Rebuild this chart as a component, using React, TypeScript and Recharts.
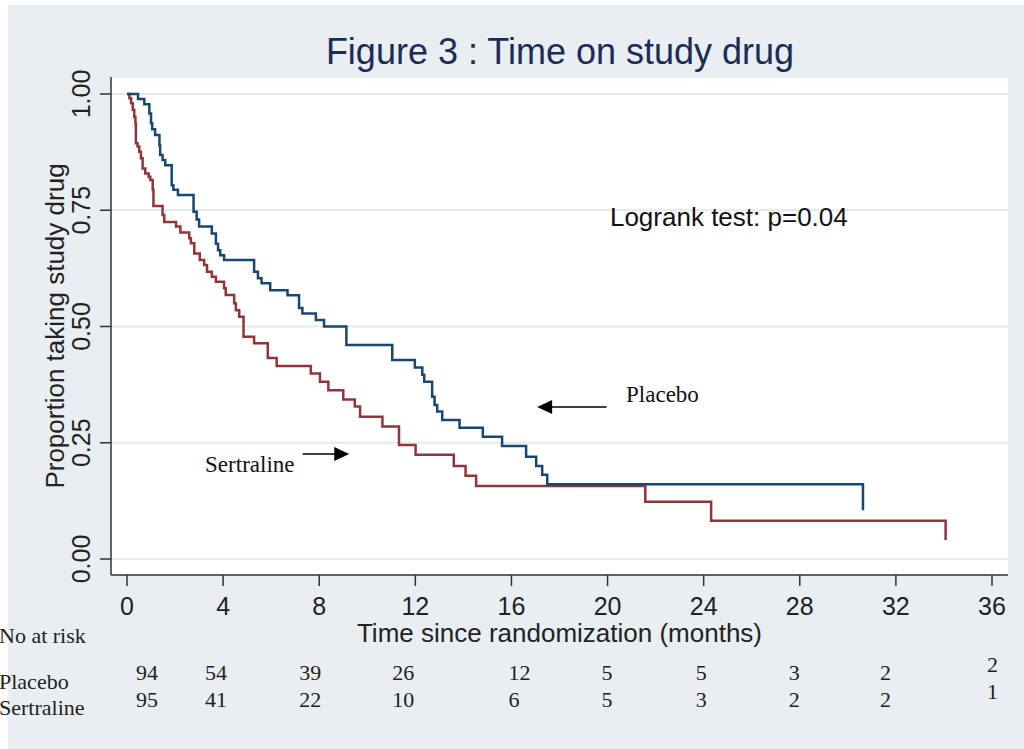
import React from 'react';
import {
    LineChart, Line, XAxis, YAxis, CartesianGrid, ReferenceLine, ReferenceDot, Label
} from 'recharts';

// Kaplan-Meier steps: time (months) -> proportion still on drug
const PLACEBO = [
    { t: 0, s: 1 }, { t: 0.46, s: 0.989 }, { t: 0.72, s: 0.978 }, { t: 0.93, s: 0.958 },
    { t: 1.0, s: 0.937 }, { t: 1.05, s: 0.924 }, { t: 1.17, s: 0.912 }, { t: 1.35, s: 0.89 },
    { t: 1.38, s: 0.869 }, { t: 1.48, s: 0.858 }, { t: 1.59, s: 0.847 }, { t: 1.86, s: 0.804 },
    { t: 1.93, s: 0.794 }, { t: 2.12, s: 0.783 }, { t: 2.77, s: 0.747 }, { t: 2.9, s: 0.73 },
    { t: 3.0, s: 0.715 }, { t: 3.53, s: 0.7 }, { t: 3.7, s: 0.678 }, { t: 3.79, s: 0.664 },
    { t: 3.88, s: 0.653 }, { t: 4.04, s: 0.643 }, { t: 5.29, s: 0.618 }, { t: 5.45, s: 0.604 },
    { t: 5.6, s: 0.593 }, { t: 5.96, s: 0.578 }, { t: 6.68, s: 0.567 }, { t: 7.16, s: 0.54 },
    { t: 7.3, s: 0.528 }, { t: 7.86, s: 0.514 }, { t: 8.2, s: 0.5 }, { t: 9.13, s: 0.46 },
    { t: 11.04, s: 0.428 }, { t: 11.98, s: 0.412 }, { t: 12.29, s: 0.396 }, { t: 12.37, s: 0.381 },
    { t: 12.7, s: 0.349 }, { t: 12.8, s: 0.331 }, { t: 12.91, s: 0.317 }, { t: 13.12, s: 0.299 },
    { t: 13.84, s: 0.282 }, { t: 14.81, s: 0.263 }, { t: 15.61, s: 0.243 }, { t: 16.61, s: 0.22 },
    { t: 17.03, s: 0.2 }, { t: 17.28, s: 0.181 }, { t: 17.49, s: 0.161 }, { t: 30.63, s: 0.105 },
];

const SERTRALINE = [
    { t: 0, s: 1 }, { t: 0.1, s: 0.991 }, { t: 0.17, s: 0.98 }, { t: 0.24, s: 0.966 },
    { t: 0.3, s: 0.951 }, { t: 0.35, s: 0.937 }, { t: 0.37, s: 0.894 }, { t: 0.44, s: 0.887 },
    { t: 0.51, s: 0.876 }, { t: 0.58, s: 0.862 }, { t: 0.65, s: 0.84 }, { t: 0.76, s: 0.829 },
    { t: 0.9, s: 0.822 }, { t: 0.97, s: 0.815 }, { t: 1.07, s: 0.794 }, { t: 1.1, s: 0.759 },
    { t: 1.48, s: 0.74 }, { t: 1.55, s: 0.725 }, { t: 2.04, s: 0.715 }, { t: 2.22, s: 0.702 },
    { t: 2.59, s: 0.69 }, { t: 2.66, s: 0.679 }, { t: 2.8, s: 0.657 }, { t: 3.03, s: 0.643 },
    { t: 3.21, s: 0.632 }, { t: 3.33, s: 0.618 }, { t: 3.53, s: 0.607 }, { t: 3.7, s: 0.596 },
    { t: 4.04, s: 0.582 }, { t: 4.11, s: 0.568 }, { t: 4.46, s: 0.55 }, { t: 4.53, s: 0.535 },
    { t: 4.67, s: 0.521 }, { t: 4.85, s: 0.478 }, { t: 5.29, s: 0.464 }, { t: 5.86, s: 0.432 },
    { t: 6.23, s: 0.415 }, { t: 7.65, s: 0.399 }, { t: 8.03, s: 0.381 }, { t: 8.38, s: 0.363 },
    { t: 9.0, s: 0.343 }, { t: 9.48, s: 0.328 }, { t: 9.7, s: 0.306 }, { t: 10.63, s: 0.285 },
    { t: 11.32, s: 0.245 }, { t: 12.01, s: 0.224 }, { t: 13.6, s: 0.2 }, { t: 14.09, s: 0.179 },
    { t: 14.53, s: 0.157 }, { t: 21.57, s: 0.123 }, { t: 24.31, s: 0.082 }, { t: 34.07, s: 0.041 },
];

const X_TICKS = [0, 4, 8, 12, 16, 20, 24, 28, 32, 36];
const Y_TICKS = [0, 0.25, 0.5, 0.75, 1];

// numbers at risk, one per x tick
const RISK_PLACEBO = [94, 54, 39, 26, 12, 5, 5, 3, 2, 2];
const RISK_SERTRALINE = [95, 41, 22, 10, 6, 5, 3, 2, 2, 1];

// stata puts the risk numbers a little off the ticks (left edge, px from tick)
const RISK_DX = [9, -18, -20, -23, -3, -6, -8, -11, -16, -5];

const SANS = '"Liberation Sans", Arial, sans-serif';
const SERIF = '"Liberation Serif", "Times New Roman", serif';
const NAVY = '#1a476f';
const MAROON = '#90353b';
const AXIS = '#333333';

const YTick = ({ x, y, payload }: any) => (
    <text
        x={x - 10}
        y={y}
        transform={`rotate(-90, ${x - 10}, ${y})`}
        textAnchor="middle"
        fontFamily={SANS}
        fontSize={25}
        fill="#222"
    >
        {Number(payload.value).toFixed(2)}
    </text>
);

const XTick = ({ x, y, payload }: any) => {
    const i = X_TICKS.indexOf(payload.value);
    const last = i === X_TICKS.length - 1;
    const lift = last ? 8 : 0;
    return (
        <g>
            <text x={x} y={y + 29} textAnchor="middle" fontFamily={SANS} fontSize={25} fill="#222">
                {payload.value}
            </text>
            <text x={x + RISK_DX[i]} y={680 - lift} fontFamily={SERIF} fontSize={22} fill="#222">
                {RISK_PLACEBO[i]}
            </text>
            <text x={x + RISK_DX[i]} y={707 - lift} fontFamily={SERIF} fontSize={22} fill="#222">
                {RISK_SERTRALINE[i]}
            </text>
        </g>
    );
};

const xLabel = ({ viewBox }: any) => (
    <text x={viewBox.x + viewBox.width / 2} y={642} textAnchor="middle" fontFamily={SANS} fontSize={26} fill="#222">
        Time since randomization (months)
    </text>
);

const yLabel = ({ viewBox }: any) => {
    const cy = viewBox.y + viewBox.height / 2;
    return (
        <text x={64} y={cy} transform={`rotate(-90, 64, ${cy})`} textAnchor="middle" fontFamily={SANS} fontSize={26} fill="#222">
            Proportion taking study drug
        </text>
    );
};

const arrowLeft = ({ cx, cy }: any) => (
    <polygon points={`${cx},${cy} ${cx + 15},${cy - 7} ${cx + 15},${cy + 7}`} fill="#000" />
);

const arrowRight = ({ cx, cy }: any) => (
    <polygon points={`${cx},${cy} ${cx - 15},${cy - 7} ${cx - 15},${cy + 7}`} fill="#000" />
);

const note = (txt: string, family: string, size: number) => ({ cx, cy }: any) => (
    <text x={cx} y={cy} fontFamily={family} fontSize={size} fill="#111">{txt}</text>
);

export default function App() {
    return (
        <div style={{ position: 'absolute', left: 0, top: 0, width: 1024, height: 749, background: '#fff', overflow: 'hidden' }}>
            <div style={{ position: 'absolute', left: 8, top: 5, width: 1016, height: 744, background: '#e8eef1' }} />

            <div style={{ position: 'absolute', left: 0, top: 0 }}>
                <LineChart width={1024} height={749} margin={{ top: 77, right: 16, bottom: 144, left: 51 }}>
                    <CartesianGrid vertical={false} fill="#ffffff" fillOpacity={1} stroke="#e4e9ed" strokeWidth={2} />
                    <XAxis
                        type="number"
                        dataKey="t"
                        domain={[0, 36]}
                        ticks={X_TICKS}
                        interval={0}
                        height={30}
                        padding={{ left: 16, right: 16 }}
                        tickSize={11}
                        tickMargin={0}
                        tick={<XTick />}
                        tickLine={{ stroke: AXIS, strokeWidth: 1.5 }}
                        axisLine={{ stroke: AXIS, strokeWidth: 1.5 }}
                        allowDataOverflow
                    >
                        <Label content={xLabel} />
                    </XAxis>
                    <YAxis
                        type="number"
                        domain={[0, 1]}
                        ticks={Y_TICKS}
                        interval={0}
                        width={60}
                        padding={{ top: 17, bottom: 16 }}
                        tickSize={11}
                        tickMargin={0}
                        tick={<YTick />}
                        tickLine={{ stroke: AXIS, strokeWidth: 1.5 }}
                        axisLine={{ stroke: AXIS, strokeWidth: 1.5 }}
                    >
                        <Label content={yLabel} />
                    </YAxis>

                    <Line data={SERTRALINE} dataKey="s" type="stepAfter" stroke={MAROON} strokeWidth={2.5} dot={false} isAnimationActive={false} />
                    <Line data={PLACEBO} dataKey="s" type="stepAfter" stroke={NAVY} strokeWidth={2.5} dot={false} isAnimationActive={false} />

                    <ReferenceDot x={20.1} y={0.716} shape={note('Logrank test: p=0.04', SANS, 26)} />
                    <ReferenceDot x={20.77} y={0.338} shape={note('Placebo', SERIF, 23)} />
                    <ReferenceDot x={3.25} y={0.188} shape={note('Sertraline', SERIF, 23)} />

                    <ReferenceLine segment={[{ x: 19.96, y: 0.327 }, { x: 17.6, y: 0.327 }]} stroke="#000" strokeWidth={1.5} />
                    <ReferenceDot x={17.07} y={0.327} shape={arrowLeft} />
                    <ReferenceLine segment={[{ x: 7.31, y: 0.226 }, { x: 8.7, y: 0.226 }]} stroke="#000" strokeWidth={1.5} />
                    <ReferenceDot x={9.25} y={0.226} shape={arrowRight} />
                </LineChart>
            </div>

            <svg width={1024} height={749} style={{ position: 'absolute', left: 0, top: 0, pointerEvents: 'none' }}>
                <text x={560} y={64} textAnchor="middle" fontFamily={SANS} fontSize={36} fill="#1c2b5a">
                    Figure 3 : Time on study drug
                </text>
                <text x={-1} y={643} fontFamily={SERIF} fontSize={22} fill="#222">No at risk</text>
                <text x={-1} y={689} fontFamily={SERIF} fontSize={22} fill="#222">Placebo</text>
                <text x={-1} y={715} fontFamily={SERIF} fontSize={22} fill="#222">Sertraline</text>
            </svg>
        </div>
    );
}
